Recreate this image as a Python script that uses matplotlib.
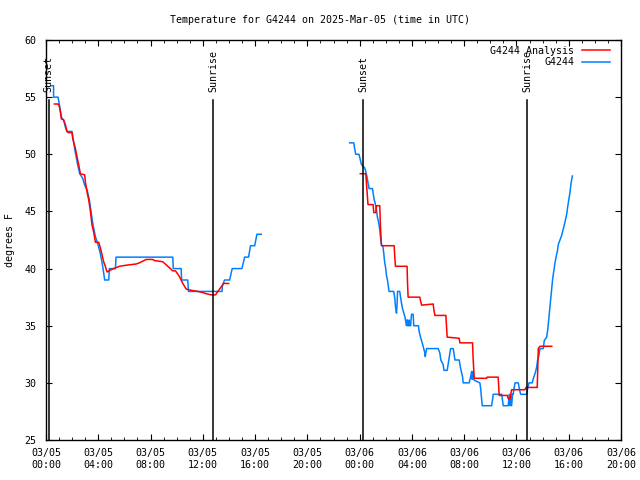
import numpy as np
import matplotlib
matplotlib.use("Agg")
import matplotlib.pyplot as plt
import matplotlib.dates as mdates
import matplotlib.transforms as mtransforms

plt.rcParams['font.family'] = ['DejaVu Sans Mono']

# hours since 2025-03-05 00:00 UTC, temperatures in F
obs1_h = [0.38, 0.58, 0.58, 0.92, 1.0, 1.1, 1.2, 1.35, 1.5, 1.6, 1.99, 2.19, 2.42, 2.58,
          2.81, 2.96, 3.14, 3.32, 3.47, 3.6, 3.78, 3.98, 4.16, 4.34, 4.49, 4.8, 4.85,
          5.31, 5.36, 9.7, 9.74, 10.34, 10.38, 10.85, 10.9, 13.47, 13.5, 13.66, 14.05,
          14.25, 14.99, 15.2, 15.5, 15.65, 15.97, 16.14, 16.47]
obs1_t = [56, 56, 55, 55, 54.5, 53.8, 53.2, 53.0, 52.3, 52.0, 52.0, 50.5, 49.1, 48.3,
          47.9, 47.3, 46.9, 46.0, 44.8, 43.8, 42.8, 42.1, 41.3, 40.2, 39.0, 39.0, 40.0,
          40.0, 41.0, 41.0, 40.0, 40.0, 39.0, 39.0, 38.0, 38.0, 38.5, 39.0, 39.0,
          40.0, 40.0, 41.0, 41.0, 42.0, 42.0, 43.0, 43.0]

obs2_h = [23.24, 23.55, 23.62, 23.7, 23.95, 24.06, 24.14, 24.39, 24.47, 24.57, 24.64, 24.72,
          24.98, 25.03, 25.1, 25.21, 25.29, 25.36, 25.46, 25.54, 25.59, 25.67, 25.79, 25.85,
          25.92, 26.0, 26.05, 26.13, 26.18, 26.25, 26.61, 26.69, 26.74, 26.82, 26.87, 26.9,
          27.07, 27.13, 27.2, 27.28, 27.38, 27.46, 27.59, 27.62, 27.66, 27.69, 27.75, 27.79,
          27.84, 27.9, 27.97, 28.1, 28.14, 28.5, 28.55, 28.66, 28.76, 28.86, 28.99, 29.02,
          29.12, 30.01, 30.14, 30.21, 30.39, 30.45, 30.7, 30.77, 30.9, 30.96, 31.16, 31.23,
          31.29, 31.62, 31.72, 31.88, 31.92, 32.38, 32.49, 32.57, 32.62, 32.66, 32.72, 32.82,
          33.2, 33.26, 33.33, 33.38, 34.1, 34.18, 34.22, 34.87, 34.99, 35.37, 35.45, 35.5,
          35.56, 35.63, 35.7, 35.75, 35.8, 35.89, 36.14, 36.22, 36.32, 36.78, 36.86, 36.96,
          37.21, 37.29, 37.36, 37.47, 37.55, 37.62, 37.72, 37.8, 38.05, 38.13, 38.31, 38.39,
          38.49, 38.57, 38.64, 38.7, 38.77, 38.87, 38.95, 39.03, 39.13, 39.2, 39.33, 39.46,
          39.59, 39.72, 39.85, 39.92, 40.02, 40.1, 40.18, 40.28]
obs2_t = [51.0, 51.0, 50.5, 50.0, 50.0, 49.5, 49.1, 48.8, 48.5, 48.0, 47.5, 47.0,
          47.0, 46.6, 46.1, 45.6, 45.1, 44.5, 44.0, 43.4, 42.8, 42.1, 41.9, 41.3,
          40.5, 40.0, 39.4, 39.0, 38.6, 38.0, 38.0, 37.4, 36.7, 36.1, 37.0, 38.0,
          38.0, 37.5, 37.0, 36.5, 36.1, 35.8, 35.0, 35.5, 35.5, 35.0, 35.0, 35.5,
          35.0, 35.0, 36.0, 36.0, 35.0, 35.0, 34.5, 34.0, 33.6, 33.2, 32.6, 32.3,
          33.0, 33.0, 32.6, 32.0, 31.6, 31.1, 31.1, 31.6, 32.6, 33.0, 33.0, 32.5,
          32.0, 32.0, 31.3, 30.5, 30.0, 30.0, 30.5, 31.0, 30.3, 31.0, 30.3, 30.2,
          30.0, 29.5, 28.6, 28.0, 28.0, 28.6, 29.0, 29.0, 28.0, 28.0, 29.0, 28.0,
          29.0, 28.0, 29.0, 29.0, 29.4, 30.0, 30.0, 29.5, 29.0, 29.0, 29.5, 30.0,
          30.0, 30.4, 30.6, 31.0, 31.4, 32.0, 32.4, 33.0, 33.0, 33.7, 34.0, 34.6,
          35.8, 36.7, 37.5, 38.4, 39.1, 39.9, 40.5, 41.0, 41.5, 42.1, 42.5, 42.9,
          43.5, 44.1, 44.8, 45.4, 46.1, 46.7, 47.5, 48.1]

ana1_h = [0.64, 0.92, 1.02, 1.1, 1.17, 1.35, 1.48, 1.61, 1.69, 1.99, 2.04, 2.25, 2.37, 2.5,
          2.63, 2.96, 3.01, 3.14, 3.27, 3.4, 3.52, 3.65, 3.78, 4.03, 4.16, 4.29, 4.41, 4.54,
          4.67, 4.98, 5.62, 6.18, 6.9, 7.15, 7.66, 8.17, 8.3, 8.93, 9.32, 9.7, 9.91, 10.21,
          10.47, 10.73, 11.11, 11.62, 12.0, 12.26, 12.64, 12.97, 13.15, 13.41, 13.59, 13.97]
ana1_t = [54.4, 54.4, 54.2, 53.7, 53.1, 53.0, 52.6, 52.0, 51.9, 51.9, 51.4, 50.5, 49.8, 49.1,
          48.3, 48.2, 47.6, 46.7, 46.0, 45.0, 43.8, 43.2, 42.3, 42.3, 41.8, 41.2, 40.6, 40.2,
          39.7, 39.9, 40.2, 40.3, 40.4, 40.5, 40.8, 40.8, 40.7, 40.6, 40.2, 39.8, 39.8, 39.3,
          38.7, 38.2, 38.1, 38.0, 37.9, 37.8, 37.7, 37.7, 38.0, 38.4, 38.7, 38.7]

ana2_h = [24.05, 24.47, 24.64, 25.03, 25.08, 25.23, 25.29, 25.54, 25.59, 25.67, 26.64, 26.69,
          26.74, 27.63, 27.66, 27.71, 28.6, 28.66, 28.74, 29.63, 29.68, 29.76, 30.6, 30.65,
          30.7, 31.62, 31.67, 32.64, 32.69, 32.77, 33.72, 33.76, 34.6, 34.68, 35.3, 35.38,
          35.5, 35.63, 36.65, 36.73, 37.59, 37.67, 37.8, 38.7]
ana2_t = [48.3, 48.3, 45.6, 45.6, 44.9, 44.9, 45.5, 45.5, 43.7, 42.0, 42.0, 41.0,
          40.2, 40.2, 38.9, 37.5, 37.5, 37.2, 36.8, 36.9, 36.4, 35.9, 35.9, 34.9,
          34.0, 33.9, 33.5, 33.5, 32.0, 30.4, 30.4, 30.5, 30.5, 28.9, 28.9, 28.6,
          28.6, 29.4, 29.4, 29.6, 29.6, 33.0, 33.2, 33.2]

sun_h = [0.2, 12.77, 24.26, 36.8]
sun_labels = ['Sunset', 'Sunrise', 'Sunset', 'Sunrise']

base = np.datetime64('2025-03-05T00:00')


def to_time(hours):
    return base + (np.array(hours) * 3600).astype(int).astype('timedelta64[s]')


fig = plt.figure(figsize=(6.4, 4.8), dpi=100)
ax = fig.add_axes([46 / 640, 40 / 480, 575 / 640, 400 / 480])

blue = '#0080ff'
red = '#ff0000'
ax.plot(to_time(obs1_h), obs1_t, color=blue, lw=1.1, label='G4244')
ax.plot(to_time(obs2_h), obs2_t, color=blue, lw=1.1)
ax.plot(to_time(ana1_h), ana1_t, color=red, lw=1.1, label='G4244 Analysis')
ax.plot(to_time(ana2_h), ana2_t, color=red, lw=1.1)

trans = mtransforms.blended_transform_factory(ax.transData, ax.transAxes)
for h, lab in zip(sun_h, sun_labels):
    t = to_time([h])[0]
    ax.axvline(t, ymin=0, ymax=0.85, color='black', lw=1.1)
    ax.text(mdates.date2num(t), 0.87, lab, transform=trans, rotation=90,
            ha='center', va='bottom', fontsize=7.2)

ax.set_xlim(base, base + np.timedelta64(44, 'h'))
ax.set_ylim(25, 60)
ax.set_yticks(np.arange(25, 61, 5))
ax.xaxis.set_major_locator(mdates.HourLocator(byhour=[0, 4, 8, 12, 16, 20]))
ax.xaxis.set_minor_locator(mdates.HourLocator())
ax.xaxis.set_major_formatter(mdates.DateFormatter('%m/%d\n%H:%M'))

ax.tick_params(which='both', direction='in', top=True, right=True, labelsize=7.2)
ax.tick_params(which='major', length=4)
ax.tick_params(which='minor', length=2.2)
ax.tick_params(axis='y', pad=7)
ax.tick_params(axis='x', pad=6)
for s in ax.spines.values():
    s.set_linewidth(1)

handles, labels = ax.get_legend_handles_labels()
ax.legend(handles[::-1], labels[::-1], loc='upper right', bbox_to_anchor=(0.981, 0.985),
          markerfirst=False, frameon=False, fontsize=7.2, handlelength=2.8,
          handletextpad=0.8, borderpad=0, borderaxespad=0, labelspacing=0.15)

fig.text(0.5, 1 - 20 / 480, 'Temperature for G4244 on 2025-Mar-05 (time in UTC)',
         ha='center', va='center', fontsize=7.2)
fig.text(10 / 640, 0.5, 'degrees F', rotation=90, ha='center', va='center', fontsize=7.2)

fig.savefig('out.png', dpi=100)
